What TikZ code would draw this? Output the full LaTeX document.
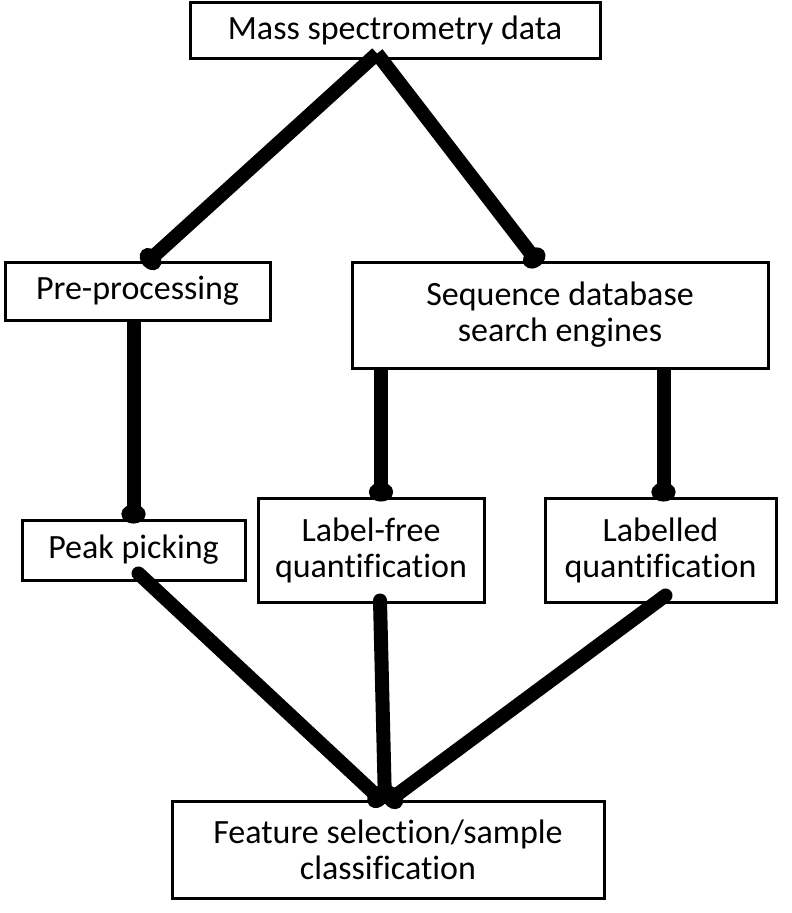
\documentclass[tikz,border=0pt]{standalone}
\usepackage{fontspec}
\setmainfont[Ligatures=NoCommon]{Carlito}
\usetikzlibrary{arrows.meta}
\begin{document}
\begin{tikzpicture}[x=1pt,y=-1pt,
  box/.style={draw=black,line width=3pt,fill=white,align=center,inner sep=0pt,
    font=\fontsize{34}{36}\selectfont},
  conn/.style={line width=14pt,-{Circle[length=19pt,width=24pt]}},
  conn2/.style={line width=14pt,line cap=round,-{Circle[length=19pt,width=24pt]}}]
\useasboundingbox (0,0) rectangle (792,913);
\node[box,minimum width=410pt,minimum height=56pt] (mass) at (395,30) {Mass spectrometry data};
\node[box,minimum width=265pt,minimum height=58pt] (pre) at (137.5,291) {Pre-processing};
\node[box,minimum width=416pt,minimum height=106pt] (seq) at (560,315) {Sequence database\\search engines};
\node[box,minimum width=223pt,minimum height=60pt] (peak) at (133.5,550) {Peak picking};
\node[box,minimum width=226pt,minimum height=104pt] (lf) at (371,550) {Label-free\\quantification};
\node[box,minimum width=231pt,minimum height=104pt] (lab) at (660.5,550) {Labelled\\quantification};
\node[box,minimum width=432pt,minimum height=97pt] (feat) at (388,849.5) {Feature selection/sample\\classification};
\coordinate (apex) at ([xshift=-18pt,yshift=6pt]mass.south);
\coordinate (conv) at ([xshift=-3pt,yshift=-4pt]feat.north);
\draw[conn] (apex) -- ([xshift=6pt,yshift=-5pt]pre.north);
\draw[conn] (apex) -- ([xshift=-20pt,yshift=-5pt]seq.north);
\draw[conn] ([xshift=-4pt,yshift=3pt]pre.south) -- ([xshift=0pt,yshift=-5pt]peak.north);
\draw[conn] ([xshift=10pt,yshift=3pt]lf.north |- seq.south) -- ([xshift=10pt,yshift=-5pt]lf.north);
\draw[conn] ([xshift=3pt,yshift=3pt]lab.north |- seq.south) -- ([xshift=3pt,yshift=-5pt]lab.north);
\draw[conn2] ([xshift=5pt,yshift=8pt]peak.south) -- (conv);
\draw[conn2] ([xshift=9pt,yshift=3pt]lf.south) -- (conv);
\draw[conn2] ([xshift=5pt,yshift=8pt]lab.south) -- (conv);
\end{tikzpicture}
\end{document}
